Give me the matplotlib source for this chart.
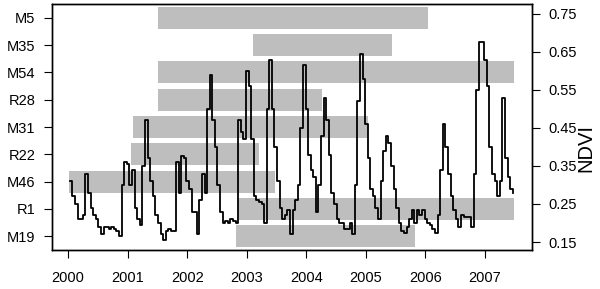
import numpy as np
import matplotlib
matplotlib.use('Agg')
from matplotlib import pyplot as plt

plt.rcParams['font.family'] = ['Liberation Sans', 'DejaVu Sans']

# Sites and the period each one covers (decimal years)
sites = ['M19', 'R1', 'M46', 'R22', 'M31', 'R28', 'M54', 'M35', 'M5']
start = [2002.82, 2002.87, 2000.02, 2001.06, 2001.09, 2001.51, 2001.51, 2003.10, 2001.51]
end = [2005.82, 2007.48, 2003.47, 2003.20, 2005.03, 2004.26, 2007.48, 2005.44, 2006.04]

# 16-day NDVI composites, one row per year
ndvi_2000 = [0.31, 0.27, 0.25, 0.21, 0.21, 0.22, 0.33, 0.28, 0.24, 0.22, 0.21, 0.19,
             0.17, 0.19, 0.19, 0.185, 0.19, 0.185, 0.18, 0.165, 0.30, 0.36, 0.355]
ndvi_2001 = [0.30, 0.34, 0.24, 0.21, 0.195, 0.35, 0.47, 0.37, 0.31, 0.27, 0.22, 0.20,
             0.17, 0.155, 0.18, 0.185, 0.18, 0.18, 0.36, 0.28, 0.375, 0.37, 0.31]
ndvi_2002 = [0.29, 0.23, 0.23, 0.17, 0.26, 0.33, 0.28, 0.50, 0.59, 0.47, 0.40, 0.30,
             0.23, 0.20, 0.205, 0.20, 0.21, 0.205, 0.20, 0.47, 0.44, 0.42, 0.60]
ndvi_2003 = [0.56, 0.42, 0.27, 0.26, 0.255, 0.25, 0.20, 0.50, 0.63, 0.50, 0.40, 0.31,
             0.24, 0.21, 0.22, 0.235, 0.17, 0.235, 0.26, 0.30, 0.45, 0.615, 0.50]
ndvi_2004 = [0.38, 0.34, 0.32, 0.23, 0.30, 0.43, 0.53, 0.47, 0.38, 0.28, 0.25, 0.21,
             0.20, 0.20, 0.185, 0.185, 0.20, 0.17, 0.30, 0.52, 0.645, 0.58, 0.46]
ndvi_2005 = [0.37, 0.29, 0.27, 0.24, 0.21, 0.31, 0.39, 0.43, 0.41, 0.35, 0.29, 0.24,
             0.20, 0.18, 0.175, 0.19, 0.21, 0.235, 0.20, 0.235, 0.22, 0.235, 0.21]
ndvi_2006 = [0.20, 0.195, 0.185, 0.175, 0.22, 0.34, 0.46, 0.40, 0.33, 0.27, 0.235, 0.21,
             0.19, 0.22, 0.215, 0.215, 0.215, 0.19, 0.33, 0.55, 0.675, 0.675, 0.63]
ndvi_2007 = [0.56, 0.40, 0.33, 0.31, 0.27, 0.31, 0.53, 0.37, 0.32, 0.29, 0.28]

ndvi = ndvi_2000 + ndvi_2001 + ndvi_2002 + ndvi_2003 + ndvi_2004 + ndvi_2005 + ndvi_2006 + ndvi_2007
dates = 2000.03 + np.arange(len(ndvi)) / 23.0

years = list(range(2000, 2008))
ndvi_ticks = [0.15, 0.25, 0.35, 0.45, 0.55, 0.65, 0.75]

fig = plt.figure(figsize=(6, 2.89), dpi=100)
ax = fig.add_axes([52/600, 1 - 250/289, 479.5/600, 246/289])

pos = np.arange(1, len(sites) + 1)
ax.barh(pos, np.array(end) - np.array(start), left=start, height=0.8,
        color='#bebebe', edgecolor='none')
ax.set_ylim(0.5, 9.5)
ax.set_xlim(1999.73, 2007.78)
ax.set_yticks(pos)
ax.set_yticklabels(sites)
ax.set_xticks(years)
ax.set_xticklabels([str(y) for y in years])
ax.tick_params(axis='y', direction='out', length=6, pad=6, labelsize=10.5)
ax.tick_params(axis='x', direction='out', length=6, pad=9, labelsize=10.5)

ax2 = ax.twinx()
ax2.plot(dates, ndvi, drawstyle='steps-post', color='black', lw=1.3)
ax2.set_ylim(0.129, 0.776)
ax2.set_yticks(ndvi_ticks)
ax2.set_yticklabels(['%.2f' % v for v in ndvi_ticks])
ax2.tick_params(axis='y', direction='out', length=6, pad=6, labelsize=10.5)
ax2.set_ylabel('NDVI', fontsize=14.5)
ax2.yaxis.set_label_coords(1.094, 0.415)

for a in (ax, ax2):
    for s in a.spines.values():
        s.set_linewidth(1.0)

fig.savefig('out.png', dpi=100)
